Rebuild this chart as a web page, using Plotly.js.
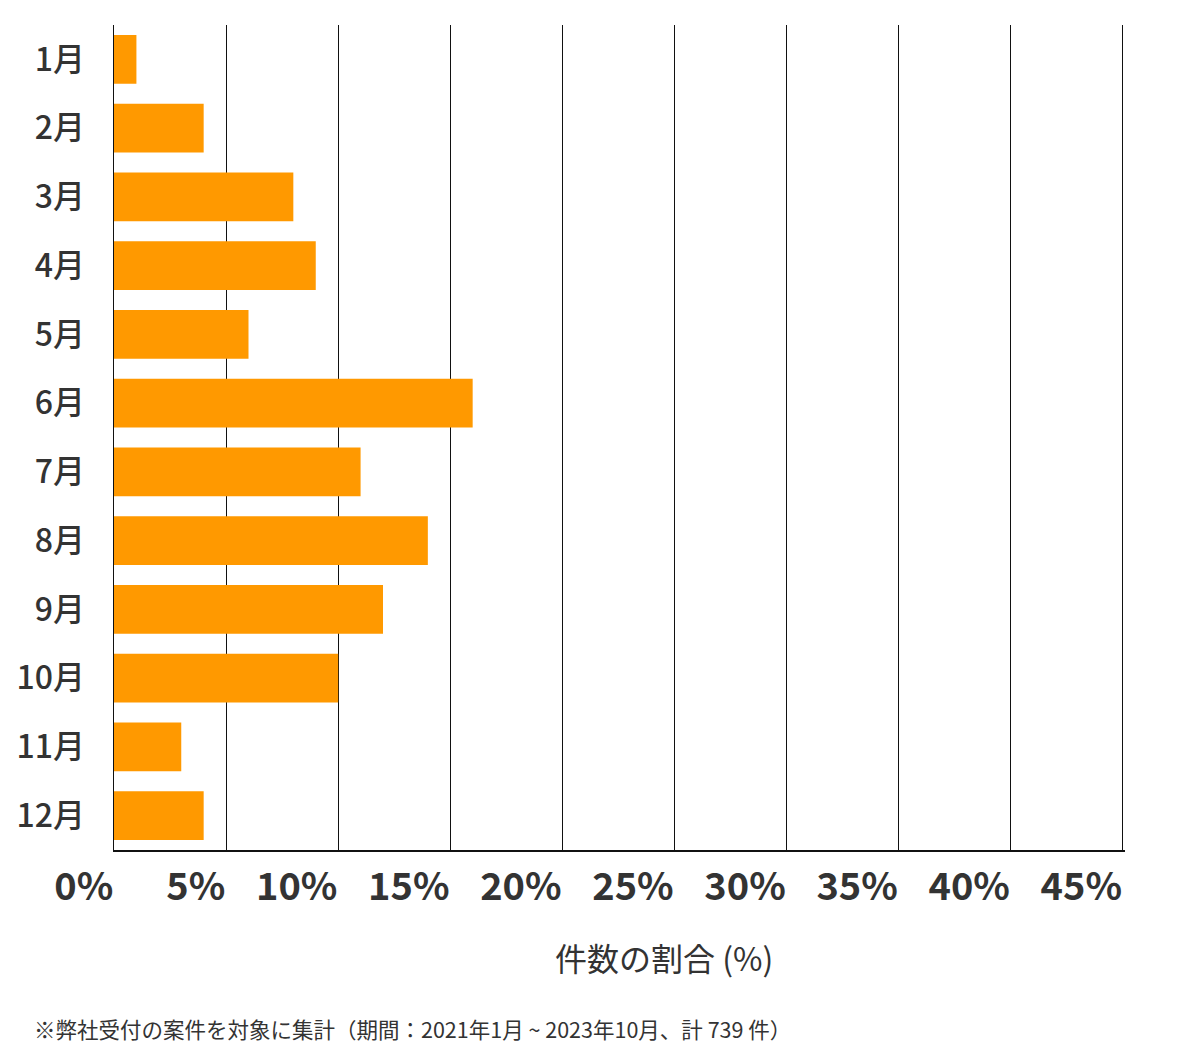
<!DOCTYPE html>
<html>
<head>
<meta charset="utf-8">
<script src="https://cdn.plot.ly/plotly-3.0.1.min.js"></script>
<style>
  html, body { margin: 0; padding: 0; background: #fff; }
  #chart { width: 1200px; height: 1060px; }
</style>
</head>
<body>
<div id="chart"></div>
<script>
// 月別の件数割合 (%)
var months = ["1月", "2月", "3月", "4月", "5月", "6月", "7月", "8月", "9月", "10月", "11月", "12月"];
var shares = [1, 4, 8, 9, 6, 16, 11, 14, 12, 10, 3, 4];
var tickVals = [0, 5, 10, 15, 20, 25, 30, 35, 40, 45];
var tickText = ["0%", "5%", "10%", "15%", "20%", "25%", "30%", "35%", "40%", "45%"];

var axisTitle = "件数の割合 (%)";
var note = "※弊社受付の案件を対象に集計（期間：2021年1月 ~ 2023年10月、計 739 件）";

var jp = '"Noto Sans CJK JP", "Noto Sans", sans-serif';

var data = [
	{
		type: "bar",
		orientation: "h",
		x: shares,
		y: months,
		marker: { color: "#ff9900" },
		hoverinfo: "x+y"
	}
];

var layout = {
	width: 1200,
	height: 1060,
	margin: { l: 114, r: 75, t: 25, b: 210 },
	paper_bgcolor: "#fff",
	plot_bgcolor: "#fff",
	bargap: 0.29,
	showlegend: false,
	font: { family: jp, color: "#333" },
	xaxis: {
		range: [0, 45.1],
		tickvals: tickVals,
		ticktext: tickText,
		ticklabelposition: "outside left",
		ticklabelstandoff: 3,
		tickfont: { size: 38, family: jp, weight: "bold", color: "#333" },
		showgrid: true,
		gridcolor: "#111",
		gridwidth: 1,
		zeroline: false,
		showline: true,
		linecolor: "#111",
		linewidth: 1.5,
		ticks: "",
		fixedrange: true
	},
	yaxis: {
		type: "category",
		range: [11.5, -0.5],
		tickfont: { size: 32, family: jp, weight: 500, color: "#333" },
		ticklabelstandoff: 21,
		showgrid: false,
		zeroline: false,
		showline: true,
		linecolor: "#111",
		linewidth: 1.5,
		ticks: "",
		fixedrange: true
	},
	annotations: [
		{
			text: axisTitle,
			xref: "paper", yref: "paper",
			x: 0.544, y: -0.13,
			xanchor: "center", yanchor: "middle",
			showarrow: false,
			font: { size: 32, family: jp, color: "#333" }
		},
		{
			text: note,
			xref: "paper", yref: "paper",
			x: -0.0813, y: -0.2158,
			xanchor: "left", yanchor: "middle",
			showarrow: false,
			font: { size: 21.5, family: jp, color: "#333" }
		}
	]
};

Plotly.newPlot("chart", data, layout, { displayModeBar: false, staticPlot: true });
</script>
</body>
</html>
